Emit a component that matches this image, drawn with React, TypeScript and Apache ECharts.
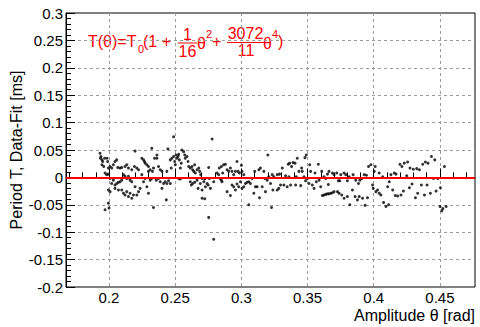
import { useEffect, useRef } from "react";
import * as echarts from "echarts";

const W = 480;
const H = 327;
const FRAME = { left: 66, right: 475, top: 13, bottom: 287 };
const X_MIN = 0.1675;
const X_MAX = 0.4765;
const Y_MIN = -0.2;
const Y_MAX = 0.3;
const Y_STEP = 0.05;
const X_MINOR_MIN = 0.17;
const X_MINOR_MAX = 0.47;
const X_MINOR_STEP = 0.01;
const FONT = "'Liberation Sans', Arial, Helvetica, sans-serif";

const xTitle = "Amplitude θ [rad]";
const yTitle = "Period T, Data-Fit [ms]";

// [amplitude (rad), residual (ms)]
const pointsA: [number, number][] = [
  [0.1932, 0.044], [0.1939, 0.038], [0.1935, 0.035], [0.1947, 0.032], [0.1952, 0.029], [0.1967, 0.035],
  [0.1985, 0.035], [0.199, 0.029], [0.1947, 0.023], [0.196, 0.02], [0.2008, 0.02], [0.1995, 0.017],
  [0.2033, 0.023], [0.202, 0.017], [0.2045, 0.029], [0.2058, 0.032], [0.2066, 0.018], [0.2083, 0.017],
  [0.2096, 0.018], [0.2121, 0.02], [0.2134, 0.023], [0.2147, 0.017], [0.2172, 0.014], [0.2197, 0.048],
  [0.2192, 0.02], [0.221, 0.017], [0.2223, 0.014], [0.2248, 0.035], [0.2261, 0.032], [0.2268, 0.029],
  [0.2273, 0.026], [0.2286, 0.023], [0.2298, 0.02], [0.2311, 0.014], [0.2323, 0.053], [0.2336, 0.017],
  [0.2344, 0.035], [0.2328, 0.011], [0.2298, 0.011],
  [0.197, 0.008], [0.1982, 0.005], [0.1995, 0.006], [0.2008, -0.002], [0.202, -0.011], [0.2033, -0.005],
  [0.2045, -0.014], [0.2058, -0.011], [0.2071, -0.009], [0.2083, -0.008], [0.2096, -0.005], [0.2109, 0.005],
  [0.2121, 0.002], [0.2134, -0.002], [0.2147, 0.002], [0.2159, -0.005], [0.2172, -0.008], [0.2096, -0.023],
  [0.2109, -0.029], [0.2121, -0.032], [0.2134, -0.026], [0.2147, -0.035], [0.2159, -0.029], [0.2172, -0.038],
  [0.2185, -0.032], [0.2197, -0.017], [0.221, -0.032], [0.2223, -0.026], [0.2235, -0.02], [0.2248, 0.005],
  [0.2261, -0.008], [0.2273, -0.002], [0.2286, -0.017], [0.2298, -0.029], [0.2311, -0.005], [0.2323, -0.002],
  [0.2336, -0.055], [0.1995, -0.023], [0.2008, -0.026], [0.1995, -0.047], [0.197, -0.059], [0.2, -0.056],
  [0.2045, -0.02], [0.2071, -0.023],
];

const pointsB: [number, number][] = [
  [0.2362, 0.041], [0.2362, 0.035], [0.2374, 0.02], [0.2387, 0.014], [0.24, 0.011], [0.2357, -0.005],
  [0.2374, -0.002], [0.2387, -0.008], [0.24, -0.02], [0.2412, -0.011], [0.2425, -0.008], [0.2437, -0.011],
  [0.245, -0.006], [0.2463, -0.011], [0.2433, -0.041], [0.2437, 0.011], [0.2445, 0.052], [0.2463, 0.032],
  [0.247, 0.017], [0.2475, 0.035], [0.2488, 0.038], [0.2488, 0.074], [0.2496, 0.029], [0.2501, 0.023],
  [0.2506, 0.041], [0.2513, 0.035], [0.2521, 0.038], [0.2526, 0.042], [0.2531, 0.032], [0.2539, 0.017],
  [0.2546, 0.026], [0.2551, 0.05], [0.2564, 0.047], [0.2572, 0.041], [0.2576, 0.035], [0.2589, 0.038],
  [0.2597, 0.029], [0.2602, 0.02], [0.2614, 0.017], [0.2627, 0.02], [0.2632, 0.014], [0.264, 0.011],
  [0.2647, 0.023], [0.2652, 0.008], [0.2665, 0.014], [0.2678, 0.017], [0.2685, 0.011], [0.2693, 0.005],
  [0.2703, -0.002], [0.2614, -0.008], [0.2622, -0.014], [0.2632, -0.011], [0.2647, -0.009], [0.2665, -0.005],
  [0.2673, -0.02], [0.269, -0.011], [0.2703, -0.023], [0.2716, -0.008], [0.2723, -0.003], [0.2728, -0.017],
  [0.2741, -0.011], [0.2749, -0.014], [0.2753, 0.018], [0.2758, -0.002], [0.2766, -0.02], [0.2703, -0.038],
  [0.2723, -0.039], [0.2753, -0.073], [0.2791, -0.113], [0.2779, 0.07], [0.2791, -0.008], [0.2526, -0.002],
  [0.2539, -0.003],
];

const pointsC: [number, number][] = [
  [0.2816, 0.008], [0.2828, 0.005], [0.2841, -0.002], [0.2848, -0.005], [0.2854, -0.008], [0.2833, 0.017],
  [0.2849, 0.02], [0.2866, 0.023], [0.2859, 0.008], [0.2879, 0.024], [0.2892, 0.014], [0.2904, 0.011],
  [0.2917, 0.017], [0.2929, 0.011], [0.2942, 0.005], [0.2955, 0.011], [0.2967, 0.029], [0.2975, 0.011],
  [0.2985, 0.008], [0.3, 0.022], [0.3005, 0.011], [0.3018, 0.005], [0.2892, -0.026], [0.2917, -0.033],
  [0.2929, -0.014], [0.2942, -0.017], [0.2955, -0.023], [0.2967, -0.012], [0.298, -0.017], [0.2993, -0.008],
  [0.3005, -0.02], [0.3018, -0.017], [0.3031, -0.011], [0.3043, -0.009], [0.3056, -0.008], [0.3068, -0.011],
  [0.3056, -0.05], [0.3081, -0.002], [0.3094, -0.029], [0.3101, 0.011], [0.3106, -0.017], [0.3119, -0.017],
  [0.3132, 0.014], [0.3137, -0.037], [0.3144, 0.017], [0.3157, -0.017], [0.317, 0.011], [0.3177, -0.002],
  [0.3182, -0.026], [0.3195, -0.005], [0.32, 0.041], [0.3207, 0.001], [0.322, -0.011], [0.3233, 0.005],
  [0.3238, -0.023], [0.3228, -0.055], [0.3245, 0.001],
];

const pointsD: [number, number][] = [
  [0.3271, -0.023], [0.3283, -0.02], [0.3296, -0.014], [0.3271, 0.005], [0.3288, 0.006], [0.3309, 0.017],
  [0.3321, -0.014], [0.3334, 0.003], [0.3346, -0.017], [0.3359, 0.001], [0.3354, 0.024], [0.3364, 0.026],
  [0.3372, -0.014], [0.3379, 0.02], [0.339, 0.027], [0.3405, 0.026], [0.3415, 0.001], [0.341, -0.014],
  [0.3422, 0.035], [0.3435, 0.011], [0.3448, -0.015], [0.3455, 0.017], [0.346, 0.011], [0.3473, 0.001],
  [0.348, 0.036], [0.3485, -0.006], [0.349, 0.041], [0.3498, -0.002], [0.3511, -0.011], [0.3516, 0.023],
  [0.3523, 0.011], [0.3536, -0.014], [0.3549, -0.02], [0.3556, 0.008], [0.3566, -0.008], [0.3581, 0.024],
  [0.3587, -0.005], [0.3599, -0.017], [0.3607, 0.011], [0.3624, 0.001], [0.3637, -0.002], [0.365, 0.006],
  [0.3657, -0.013], [0.3662, 0.011], [0.3612, -0.033], [0.3624, -0.032], [0.3637, -0.031], [0.365, -0.03],
  [0.3662, -0.03], [0.3675, -0.029], [0.3688, -0.028], [0.37, -0.026], [0.3688, 0.008], [0.37, 0.005],
];

const pointsE: [number, number][] = [
  [0.3721, 0.008], [0.3733, -0.006], [0.3743, -0.006], [0.3751, 0.005], [0.3726, -0.026], [0.3738, -0.029],
  [0.3758, -0.032], [0.3776, 0.008], [0.3789, 0.005], [0.3801, -0.006], [0.3776, -0.038], [0.3801, -0.035],
  [0.3819, -0.05], [0.3814, 0.001], [0.3839, -0.023], [0.3844, 0.005], [0.3859, -0.035], [0.3864, -0.005],
  [0.3877, -0.041], [0.3885, -0.011], [0.389, -0.035], [0.3895, -0.005], [0.391, -0.002], [0.3915, -0.038],
  [0.3928, 0.005], [0.3935, -0.051], [0.3945, 0.004], [0.3953, -0.037], [0.3961, 0.02], [0.3978, 0.023],
  [0.3991, -0.014], [0.3996, -0.02], [0.4004, 0.011], [0.4011, 0.02], [0.4016, -0.026], [0.4029, -0.023],
  [0.4041, 0.008], [0.4041, -0.029], [0.4054, -0.032], [0.4067, 0.001], [0.4074, -0.046], [0.4092, -0.053],
  [0.4105, -0.017], [0.4112, -0.05], [0.4117, -0.008], [0.413, 0.005], [0.4143, -0.023], [0.4155, 0.008],
  [0.4163, -0.033],
];

const pointsF: [number, number][] = [
  [0.4168, 0.006], [0.4181, -0.034], [0.4198, 0.024], [0.4206, -0.032], [0.4213, 0.02], [0.4224, -0.025],
  [0.4231, 0.026], [0.4249, 0.003], [0.4256, 0.028], [0.4269, -0.019], [0.4274, 0.017], [0.4289, -0.012],
  [0.4299, 0.015], [0.4315, -0.037], [0.4325, 0.016], [0.4332, -0.029], [0.4345, 0.014], [0.436, -0.014],
  [0.437, 0.024], [0.4383, -0.032], [0.439, 0.028], [0.4403, -0.014], [0.441, 0.026], [0.4428, -0.029],
  [0.4436, 0.038], [0.4451, -0.002], [0.4461, 0.032], [0.4471, -0.025], [0.4484, -0.002], [0.4504, -0.019],
  [0.4501, -0.053], [0.4514, -0.061], [0.4522, -0.057], [0.4534, 0.02], [0.4547, -0.053],
];

const fitLevel = 0;

const fmt = (v: number) => String(parseFloat(v.toFixed(3)));

export default function App() {
  const ref = useRef<HTMLDivElement>(null);

  useEffect(() => {
    if (!ref.current) return;
    const chart = echarts.init(ref.current, undefined, { renderer: "svg" });
    const pxPerX = (FRAME.right - FRAME.left) / (X_MAX - X_MIN);
    const minorLeft = FRAME.left + (X_MINOR_MIN - X_MIN) * pxPerX;
    const minorRight = FRAME.left + (X_MINOR_MAX - X_MIN) * pxPerX;
    const all = [...pointsA, ...pointsB, ...pointsC, ...pointsD, ...pointsE, ...pointsF];
    const red = "#ff0000";
    const labelStyle = { color: "#000", fontSize: 15, fontFamily: FONT, lineHeight: 14 };
    const dashed = { color: "#9a9a9a", width: 1, type: [3, 3] as any };
    const t = (text: string, x: number, y: number, size: number, align = "left") => ({
      type: "text",
      silent: true,
      style: {
        text,
        x,
        y,
        fill: red,
        font: `${size}px ${FONT}`,
        textAlign: align,
        textVerticalAlign: "middle",
      },
    });
    const bar = (x1: number, x2: number, y: number) => ({
      type: "line",
      silent: true,
      shape: { x1, y1: y, x2, y2: y },
      style: { stroke: red, lineWidth: 1 },
    });

    chart.setOption({
      animation: false,
      backgroundColor: "#fff",
      grid: [
        {
          left: FRAME.left,
          right: W - FRAME.right,
          top: FRAME.top,
          bottom: H - FRAME.bottom,
          show: true,
          borderColor: "#000",
          borderWidth: 1,
          backgroundColor: "transparent",
        },
        {
          left: minorLeft,
          right: W - minorRight,
          top: FRAME.top,
          bottom: H - FRAME.bottom,
          show: false,
        },
      ],
      xAxis: [
        {
          type: "value",
          gridIndex: 0,
          min: X_MIN,
          max: X_MAX,
          axisLine: { show: true, lineStyle: { color: "#000", width: 1 } },
          axisTick: { show: true, inside: true, length: 9, lineStyle: { color: "#000" } },
          axisLabel: {
            ...labelStyle,
            margin: 3,
            showMinLabel: false,
            showMaxLabel: false,
            formatter: (v: number) => {
              const k = v / 0.05;
              return Math.abs(k - Math.round(k)) < 1e-6 ? fmt(v) : "";
            },
          },
          splitLine: { show: true, showMinLine: false, showMaxLine: false, lineStyle: dashed },
        },
        {
          type: "value",
          gridIndex: 1,
          min: X_MINOR_MIN,
          max: X_MINOR_MAX,
          interval: X_MINOR_STEP,
          axisLine: { show: false },
          axisTick: { show: true, inside: true, length: 5, lineStyle: { color: "#000" } },
          axisLabel: { show: false },
          splitLine: { show: false },
        },
      ],
      yAxis: [
        {
          type: "value",
          gridIndex: 0,
          min: Y_MIN,
          max: Y_MAX,
          interval: Y_STEP,
          axisLine: { show: true, lineStyle: { color: "#000", width: 1 } },
          axisTick: { show: true, inside: true, length: 9, lineStyle: { color: "#000" } },
          minorTick: { show: true, splitNumber: 5, length: 5, lineStyle: { color: "#000" } },
          axisLabel: { ...labelStyle, margin: 3, formatter: (v: number) => fmt(v) },
          splitLine: { show: true, showMinLine: false, showMaxLine: false, lineStyle: dashed },
        },
        { type: "value", gridIndex: 1, min: Y_MIN, max: Y_MAX, show: false },
      ],
      series: [
        {
          type: "scatter",
          xAxisIndex: 0,
          yAxisIndex: 0,
          data: all,
          symbol: "circle",
          symbolSize: 3,
          itemStyle: { color: "#000" },
          silent: true,
          markLine: {
            silent: true,
            symbol: ["none", "none"],
            label: { show: false },
            lineStyle: { color: red, width: 2, type: "solid" },
            data: [{ yAxis: fitLevel }],
          },
        },
        { type: "scatter", xAxisIndex: 1, yAxisIndex: 1, data: [] },
      ],
      graphic: [
        t("T(θ)=T", 88, 41, 16),
        t("0", 138, 49, 11),
        t("(1 +", 143, 41, 16),
        t("1", 187.5, 34, 16, "center"),
        bar(178, 197, 43),
        t("16", 187.5, 51, 16, "center"),
        t("θ", 197, 43, 16),
        t("2", 206, 34, 11),
        t("+", 212, 41, 16),
        t("3072", 245.5, 33, 16, "center"),
        bar(227, 264, 42.5),
        t("11", 246, 50, 16, "center"),
        t("θ", 263, 43, 16),
        t("4", 272, 34, 11),
        t(")", 278, 41, 16),
        {
          type: "text",
          silent: true,
          style: {
            text: xTitle,
            x: FRAME.right,
            y: 315,
            fill: "#000",
            font: `16px ${FONT}`,
            lineHeight: 14,
            textAlign: "right",
            textVerticalAlign: "middle",
          },
        },
        {
          type: "text",
          silent: true,
          x: 16,
          y: (FRAME.top + FRAME.bottom) / 2,
          rotation: Math.PI / 2,
          style: {
            text: yTitle,
            x: 0,
            y: 0,
            fill: "#000",
            font: `16px ${FONT}`,
            textAlign: "center",
            textVerticalAlign: "middle",
          },
        },
      ],
    });
    return () => chart.dispose();
  }, []);

  return (
    <div
      ref={ref}
      style={{ position: "fixed", left: 0, top: 0, width: W, height: H, background: "#fff" }}
    />
  );
}
